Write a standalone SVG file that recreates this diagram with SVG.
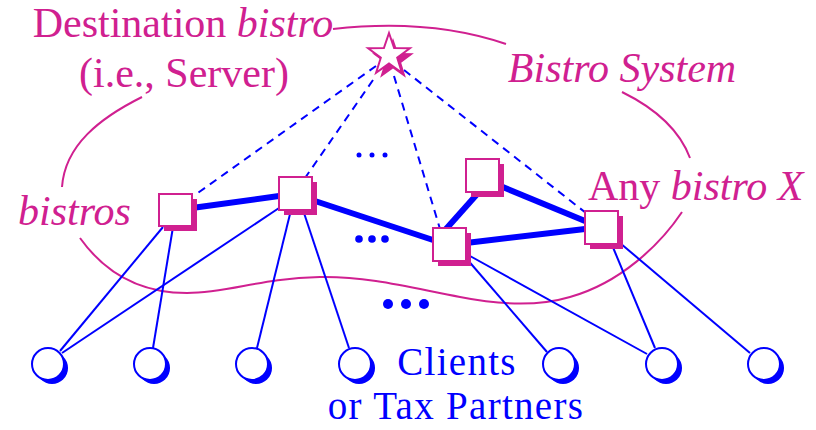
<svg xmlns="http://www.w3.org/2000/svg" width="816" height="430" viewBox="0 0 816 430">
<style>
.lbl{font-family:"Liberation Serif","Times New Roman",serif;font-size:42px;fill:#d02090}
.clt{font-family:"Liberation Serif","Times New Roman",serif;font-size:39px;letter-spacing:1.3px;fill:#0000ff}
.it{font-style:italic}
.curve{fill:none;stroke:#d02090;stroke-width:2}
.dash{fill:none;stroke:#0000ff;stroke-width:2;stroke-dasharray:8,6}
.thick{fill:none;stroke:#0000ff;stroke-width:6}
.thin{fill:none;stroke:#0000ff;stroke-width:2}
.bsh{fill:#d02090}
.bfr{fill:#fff;stroke:#d02090;stroke-width:2}
.csh{fill:#0000ff}
.cfr{fill:#fff;stroke:#0000ff;stroke-width:2}
.dot{fill:#0000ff}
</style>
<rect width="816" height="430" fill="#fff"/>

<g id="system-outline">
<path class="curve" d="M333,29 Q430,18 506,44"/>
<path class="curve" d="M622,92 Q675,118 690,158"/>
<path class="curve" d="M142,97 C100,118 65,145 62,187"/>
<path class="curve" d="M80,238 C110,280 150,293 187,293 C230,293 260,278 320,277 C370,276 420,290 460,297 C500,305 540,306 570,297 C620,283 660,245 682,212"/>
</g>

<g id="connectors">
<path class="dash" d="M376,66 L195,195"/>
<path class="dash" d="M373,80 L305,178"/>
<path class="dash" d="M394,76 L440,229"/>
<path class="dash" d="M404,70 L586,213"/>
<path class="thick" d="M192,208 L279,196"/>
<path class="thick" d="M312,200 L433,240"/>
<path class="thick" d="M446,229 L479,192"/>
<path class="thick" d="M466,243 L585,229"/>
<path class="thick" d="M498,185 L585,221"/>
<path class="thin" d="M163,227 L60,351"/>
<path class="thin" d="M279,208 L62,353"/>
<path class="thin" d="M173,227 L153,348"/>
<path class="thin" d="M291,210 L257,348"/>
<path class="thin" d="M303,210 L349,348"/>
<path class="thin" d="M466,258 L547,352"/>
<path class="thin" d="M470,256 L647,354"/>
<path class="thin" d="M612,245 L655,348"/>
<path class="thin" d="M620,243 L750,353"/>
</g>

<g id="destination">
<polygon class="bsh" transform="translate(4,5)" points="389,33 394.1,48 409.9,48.2 397.2,57.7 401.9,72.8 389,63.6 376.1,72.8 380.8,57.7 368.1,48.2 383.9,48"/>
<polygon class="bfr" points="389,33 394.1,48 409.9,48.2 397.2,57.7 401.9,72.8 389,63.6 376.1,72.8 380.8,57.7 368.1,48.2 383.9,48"/>
</g>

<g id="bistro1"><rect class="bsh" x="164" y="199" width="33" height="32"/><rect class="bfr" x="159" y="194" width="33" height="32"/></g>
<g id="bistro2"><rect class="bsh" x="284" y="182" width="33" height="33"/><rect class="bfr" x="279" y="177" width="33" height="33"/></g>
<g id="bistro3"><rect class="bsh" x="438" y="233" width="33" height="33"/><rect class="bfr" x="433" y="228" width="33" height="33"/></g>
<g id="bistro4"><rect class="bsh" x="471" y="164" width="33" height="33"/><rect class="bfr" x="466" y="159" width="33" height="33"/></g>
<g id="bistroX"><rect class="bsh" x="590" y="216" width="33" height="33"/><rect class="bfr" x="585" y="211" width="33" height="33"/></g>

<g id="client1"><circle class="csh" cx="52" cy="368" r="16"/><circle class="cfr" cx="48" cy="364" r="16"/></g>
<g id="client2"><circle class="csh" cx="154" cy="368" r="16"/><circle class="cfr" cx="150" cy="364" r="16"/></g>
<g id="client3"><circle class="csh" cx="256" cy="368" r="16"/><circle class="cfr" cx="252" cy="364" r="16"/></g>
<g id="client4"><circle class="csh" cx="359" cy="368" r="16"/><circle class="cfr" cx="355" cy="364" r="16"/></g>
<g id="client5"><circle class="csh" cx="563" cy="368" r="16"/><circle class="cfr" cx="559" cy="364" r="16"/></g>
<g id="client6"><circle class="csh" cx="666" cy="368" r="16"/><circle class="cfr" cx="662" cy="364" r="16"/></g>
<g id="client7"><circle class="csh" cx="768" cy="368" r="16"/><circle class="cfr" cx="764" cy="364" r="16"/></g>

<g id="ellipses">
<circle class="dot" cx="359" cy="155" r="2.5"/><circle class="dot" cx="372" cy="155" r="2.5"/><circle class="dot" cx="385" cy="155" r="2.5"/>
<circle class="dot" cx="359" cy="239" r="3.8"/><circle class="dot" cx="372" cy="239" r="3.8"/><circle class="dot" cx="385" cy="239" r="3.8"/>
<circle class="dot" cx="388" cy="304" r="5"/><circle class="dot" cx="406" cy="304" r="5"/><circle class="dot" cx="424" cy="304" r="5"/>
</g>

<g id="labels">
<text class="lbl" x="183" y="37" text-anchor="middle">Destination <tspan class="it">bistro</tspan></text>
<text class="lbl" x="184" y="87" text-anchor="middle">(i.e., Server)</text>
<text class="lbl it" x="622" y="82" text-anchor="middle">Bistro System</text>
<text class="lbl it" x="18" y="225">bistros</text>
<text class="lbl" x="588" y="200">Any <tspan class="it">bistro X</tspan></text>
<text class="clt" x="457" y="375" text-anchor="middle">Clients</text>
<text class="clt" x="456" y="419" text-anchor="middle">or Tax Partners</text>
</g>
</svg>
